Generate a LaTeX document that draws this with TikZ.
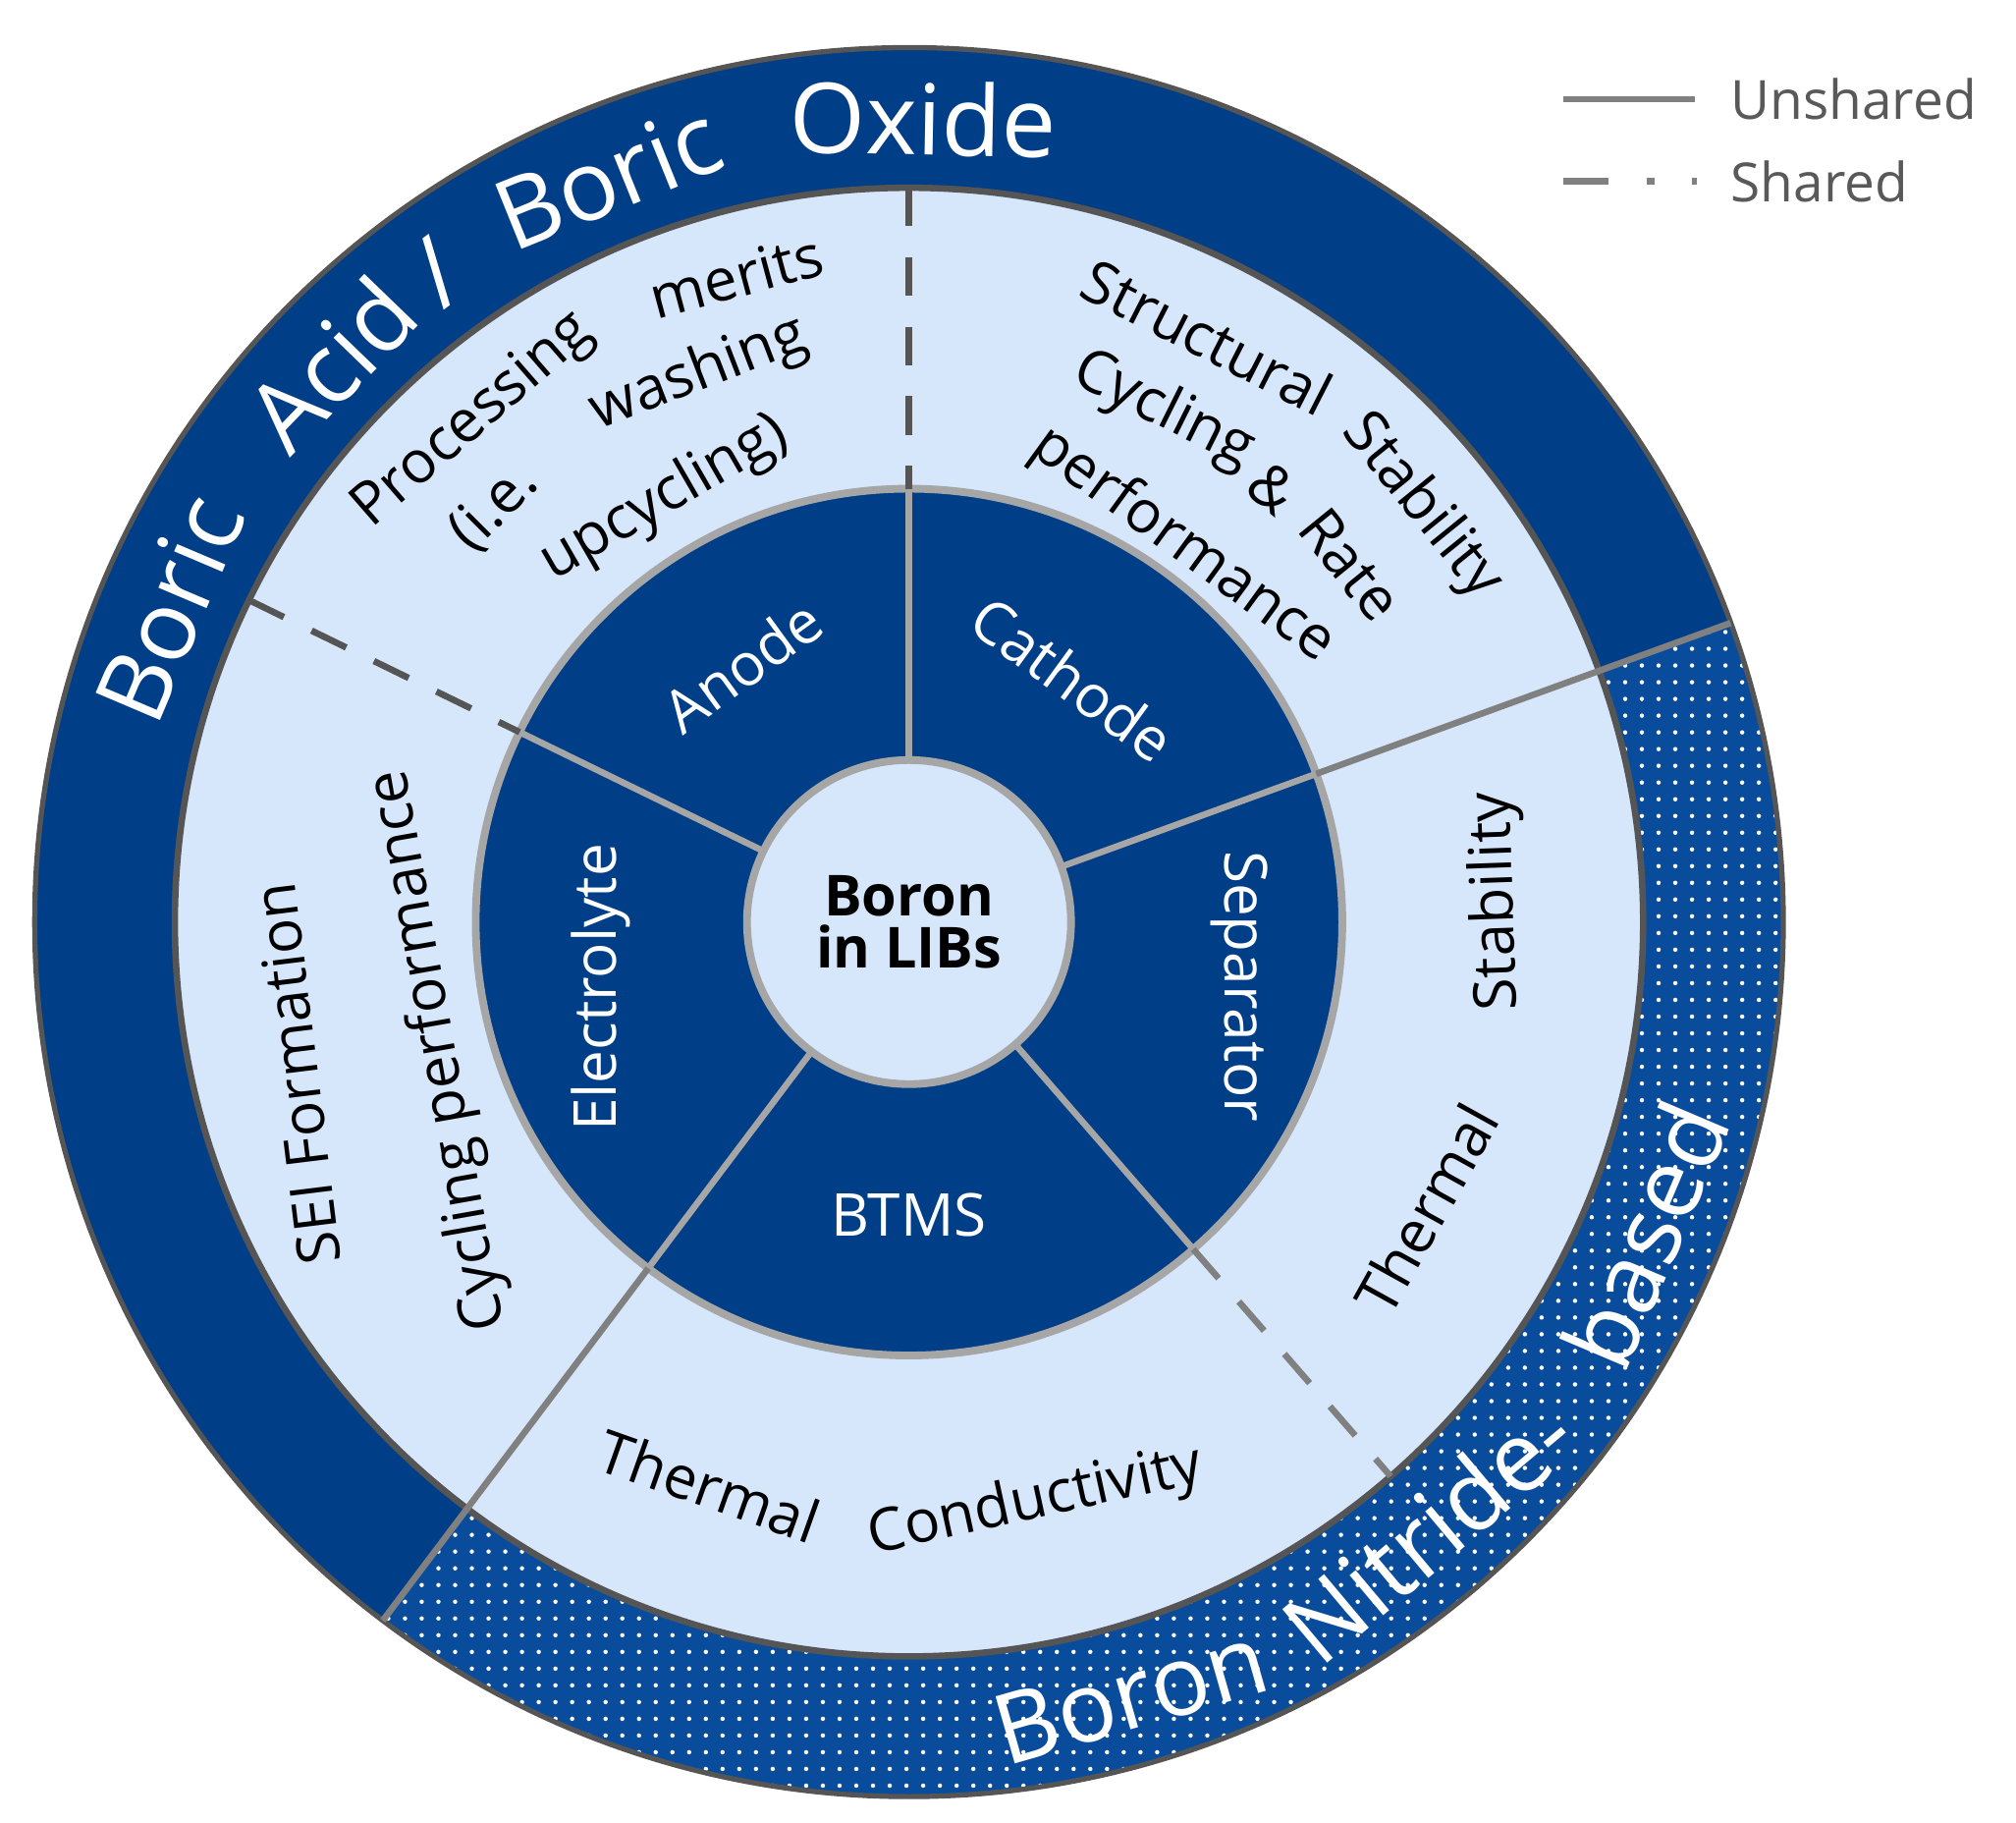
\documentclass[tikz,border=0pt]{standalone}
\usepackage{fontspec}
\setmainfont{Open Sans}
\usetikzlibrary{patterns}
\definecolor{dblue}{HTML}{003F88}
\definecolor{dotblue}{HTML}{0A4C9C}
\definecolor{lblue}{HTML}{D6E7FB}
\definecolor{rimgray}{HTML}{555555}
\definecolor{ingray}{HTML}{A6A6A6}
\definecolor{midgray}{HTML}{808080}
\definecolor{leggray}{HTML}{595959}
\pgfdeclarepatternformonly{bigdots}{\pgfqpoint{-2pt}{-2pt}}{\pgfqpoint{13pt}{13pt}}{\pgfqpoint{13pt}{13pt}}{\pgfpathcircle{\pgfqpoint{3pt}{3pt}}{1.7pt}\pgfusepath{fill}}
\newcommand{\fs}[1]{\fontsize{#1}{#1}\selectfont}
\newcommand{\midfont}{\fontsize{46}{46}\selectfont}
\newcommand{\bigfont}{\fontsize{76}{76}\selectfont}
\tikzset{
  shareline/.style={line width=5,dash pattern=on 30 off 24},
  innerline/.style={line width=5,ingray},
  outerline/.style={line width=5,midgray},
  lab/.style={font=\midfont,inner sep=0},
  big/.style={font=\bigfont,inner sep=0,white},
}
\begin{document}
\begin{tikzpicture}[x=1pt,y=1pt]
\useasboundingbox (0,0) rectangle (1568,-1417.5);
\begin{scope}[shift={(707,-717)}]
% outer ring
\fill[dblue] (20:680) arc[start angle=20,end angle=233,radius=680] -- (233:571) arc[start angle=233,end angle=20,radius=571] -- cycle;
\fill[dotblue] (233:680) arc[start angle=233,end angle=380,radius=680] -- (20:571) arc[start angle=20,end angle=-127,radius=571] -- cycle;
\fill[pattern=bigdots,pattern color=white] (233:680) arc[start angle=233,end angle=380,radius=680] -- (20:571) arc[start angle=20,end angle=-127,radius=571] -- cycle;
\draw[rimgray,line width=4] (0,0) circle[radius=680];
% light ring
\fill[lblue] (0,0) circle[radius=571];
\draw[rimgray,line width=5] (0,0) circle[radius=571];
% dark ring
\fill[dblue] (0,0) circle[radius=337];
\draw[ingray,line width=6] (0,0) circle[radius=337];
\node[circle,minimum size=252,fill=lblue,draw=ingray,line width=6,inner sep=0,align=center,font=\fs{44}\bfseries] (C) at (0,0) {Boron\\[-4pt]in LIBs};
% coordinates
\foreach \a/\n in {90/u,154/ul,20/r,-49/lr,-127/ll}{
  \coordinate (i\n) at (\a:126);
  \coordinate (m\n) at (\a:337);
  \coordinate (o\n) at (\a:571);
  \coordinate (e\n) at (\a:680);
}
\foreach \n in {u,ul,r,lr,ll} \draw[innerline] (i\n) -- (m\n);
\draw[outerline] (mr) -- (er);
\draw[outerline] (mll) -- (ell);
\draw[shareline,rimgray] (ou) -- (mu);
\draw[shareline,rimgray] (oul) -- (mul);
\draw[shareline,midgray] (mlr) -- (olr);
% dark ring labels
\node[lab,white,rotate=36] (an) at (123:238) {Anode};
\node[lab,white,rotate=-36] (ca) at (56:228) {Cathode};
\node[lab,white,rotate=90] (el) at (192:245) {Electrolyte};
\node[lab,white,rotate=-90] (se) at (-11:262) {Separator};
\node[lab,white] (bt) at (-90:228) {BTMS};
% light ring labels (top, tops outward)
\node[lab,rotate=41] (w1) at (131:516) {Processing};
\node[lab,rotate=15] (w2) at (105:520) {merits};
\node[lab,rotate=45] (w3) at (135:456) {(i.e.};
\node[lab,rotate=21] (w4) at (111:456) {washing};
\node[lab,rotate=30] (w5) at (120:380) {upcycling)};
\node[lab,rotate=-27] (s1) at (63:511) {Structural};
\node[lab,rotate=-51] (s2) at (39:513) {Stability};
\node[lab,rotate=-26.5] (s3) at (63.5:444) {Cycling};
\node[lab,rotate=-40] (s4) at (50:440) {\&};
\node[lab,rotate=-51] (s5) at (39:442) {Rate};
\node[lab,rotate=-36] (s6) at (54:362) {performance};
% light ring labels (tops inward)
\node[lab,rotate=-19.5] (t1) at (-109.5:465) {Thermal};
\node[lab,rotate=12.3] (t2) at (-77.7:462) {Conductivity};
\node[lab,rotate=61] (t3) at (-29:460) {Thermal};
\node[lab,rotate=92] (t4) at (2:458) {Stability};
\node[lab,rotate=97] (sei) at (-476,-118) {SEI Formation};
\node[lab,rotate=100] (cyc) at (-365,-100) {Cycling performance};
% outer ring labels
\node[big,rotate=67] (b1) at (157:625) {Boric};
\node[big,rotate=46] (b2) at (136:625) {Acid};
\node[big,rotate=37] (b3) at (126:625) {/};
\node[big,rotate=22] (b4) at (112:625) {Boric};
\node[big,rotate=-1] (b5) at (89:625) {Oxide};
\node[big,rotate=16] (n1) at (-74:625) {Boron};
\node[big,rotate=40] (n2) at (-49.5:622) {Nitride-};
\node[big,rotate=67] (n3) at (-23:622) {based};
\end{scope}
% legend
\draw[midgray,line width=5] (1216,-77) -- (1318,-77);
\node[anchor=west,inner sep=0,font=\fs{42},leggray] (l1) at (1346,-77) {Unshared};
\draw[midgray,line width=5] (1216,-141) -- (1251,-141) (1281,-141) -- (1287,-141) (1316,-141) -- (1320,-141);
\node[anchor=west,inner sep=0,font=\fs{42},leggray] (l2) at (1346,-141) {Shared};
\end{tikzpicture}
\end{document}
